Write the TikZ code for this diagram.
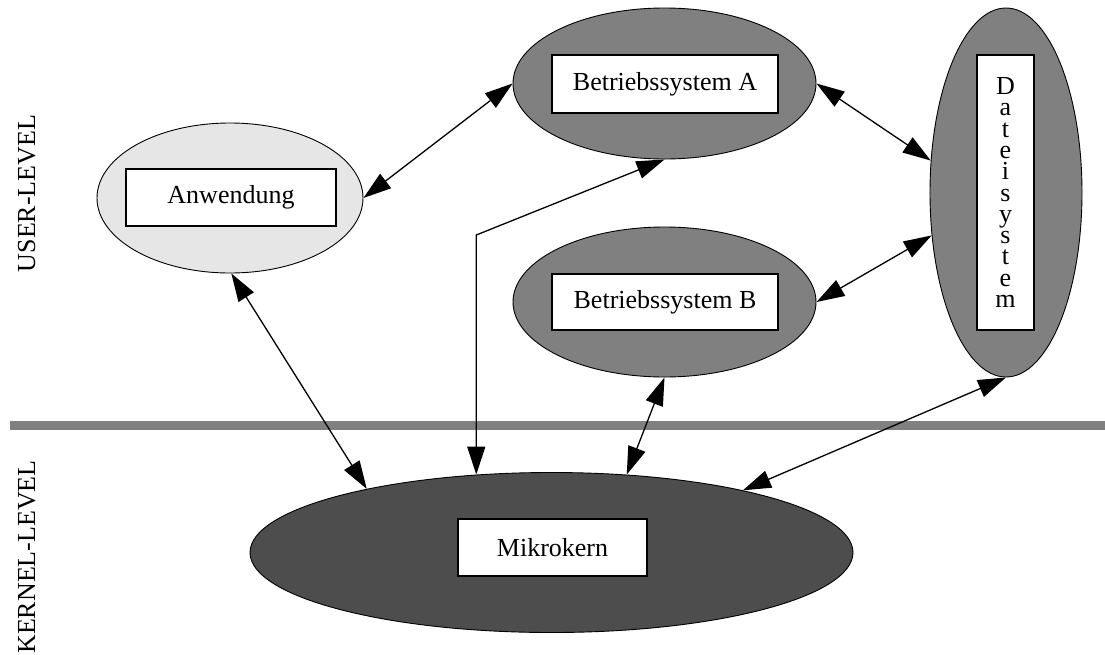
\documentclass[tikz,border=0pt]{standalone}
\usepackage{fontspec}
\setmainfont{Liberation Serif}
\usetikzlibrary{shapes.geometric,arrows.meta}
\definecolor{lightfill}{HTML}{E6E6E6}
\definecolor{midfill}{HTML}{808080}
\definecolor{darkfill}{HTML}{4D4D4D}
\tikzset{
  blob/.style={ellipse, draw=black, line width=0.9pt, inner sep=0pt},
  labelbox/.style={draw=black, fill=white, line width=1.6pt, inner sep=0pt,
    font=\fontsize{26}{31}\selectfont},
  conn/.style={line width=1.3pt, {Triangle[length=28pt,width=18pt]}-{Triangle[length=28pt,width=18pt]}},
  levellabel/.style={rotate=90, anchor=base, font=\fontsize{26}{31}\selectfont}
}
\begin{document}
\begin{tikzpicture}[x=1pt,y=-1pt]
\useasboundingbox (0,0) rectangle (1105,654);
% level separator
\fill[midfill] (10,421) rectangle (1105,429.5);
\node[levellabel] (ul) at (35,193.5) {USER-LEVEL};
\node[levellabel] (kl) at (35,557) {KERNEL-LEVEL};
% ellipses
\node[blob, fill=lightfill, minimum width=266pt, minimum height=150pt] (An) at (230,198) {};
\node[blob, fill=midfill, minimum width=303pt, minimum height=151pt] (BA) at (664.5,83.5) {};
\node[blob, fill=midfill, minimum width=303pt, minimum height=150pt] (BB) at (664.5,302) {};
\node[blob, fill=midfill, minimum width=152pt, minimum height=369pt] (DS) at (1006,192.5) {};
\node[blob, fill=darkfill, minimum width=603pt, minimum height=160pt] (MK) at (551.5,552.5) {};
% label boxes
\node[labelbox, minimum width=210pt, minimum height=57pt] (AnT) at (231,197.5) {Anwendung};
\node[labelbox, minimum width=226pt, minimum height=58pt] (BAT) at (665,84) {Betriebssystem A};
\node[labelbox, minimum width=226pt, minimum height=56pt] (BBT) at (665,302) {Betriebssystem B};
\node[labelbox, minimum width=189pt, minimum height=57pt] (MKT) at (552.5,547.5) {Mikrokern};
\node[labelbox, minimum width=57pt, minimum height=275pt] (DSB) at (1005.5,192.5) {};
\node[font=\fontsize{26}{21.3}\selectfont, align=center, inner sep=0pt] (DST) at (DSB.center)
  {D\\a\\t\\e\\i\\s\\y\\s\\t\\e\\m};
% connectors
\coordinate (bend) at (476,235);
\draw[conn] (An.0) -- (BA.180);
\draw[conn] (BA.0) -- (DS.157);
\draw[conn] (BB.0) -- (DS.210);
\draw[conn] (An.-89) -- (MK.161);
\draw[conn] (BA.-90) -- (MK.134 |- bend) -- (MK.134);
\draw[conn] (BB.-90) -- (MK.46);
\draw[conn] (DS.-90) -- (MK.18);
\end{tikzpicture}
\end{document}
